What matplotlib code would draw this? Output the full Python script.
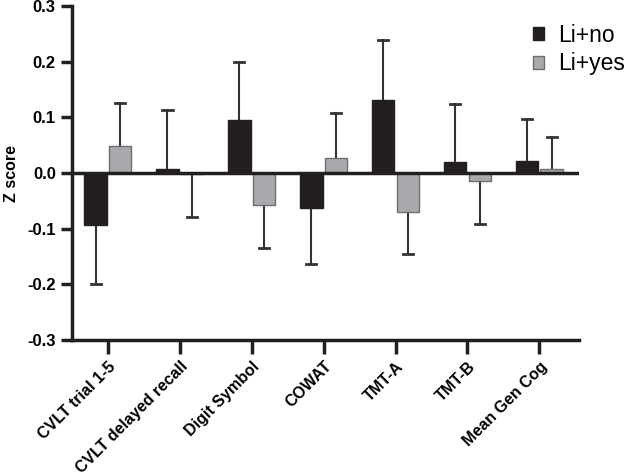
import numpy as np
import matplotlib
matplotlib.use("Agg")
import matplotlib.pyplot as plt

plt.rcParams['font.family'] = ['Liberation Sans', 'DejaVu Sans']

categories = ["CVLT trial 1-5", "CVLT delayed recall", "Digit Symbol", "COWAT",
              "TMT-A", "TMT-B", "Mean Gen Cog"]
li_no = [-0.094, 0.008, 0.095, -0.063, 0.132, 0.020, 0.022]
li_no_err = [0.106, 0.106, 0.105, 0.100, 0.108, 0.104, 0.075]
li_yes = [0.049, -0.001, -0.058, 0.028, -0.069, -0.014, 0.008]
li_yes_err = [0.077, 0.078, 0.077, 0.080, 0.076, 0.078, 0.057]

x = np.arange(len(categories))
w = 0.31
off = 0.17

fig = plt.figure(figsize=(6.3, 4.75), dpi=100)
ax = fig.add_axes([0.114, 0.284, 0.805, 0.703])

ax.bar(x - off, li_no, w, color="#231f20", edgecolor="#231f20", lw=1, label="Li+no", zorder=3)
ax.bar(x + off, li_yes, w, color="#a7a9ac", edgecolor="#6d6e70", lw=1, label="Li+yes", zorder=3)

# error bars only on the side away from zero, cap only at the far end
for xs, vals, errs in [(x - off, li_no, li_no_err), (x + off, li_yes, li_yes_err)]:
    for xi, v, e in zip(xs, vals, errs):
        tip = v - e if v < 0 else v + e
        ax.plot([xi, xi], [v, tip], color="#333333", lw=1.5, zorder=2)
        ax.plot([xi - 0.07, xi + 0.07], [tip, tip], color="#333333", lw=2, zorder=2)

ax.axhline(0, color="#231f20", lw=2.5, zorder=5)

ax.set_xlim(-0.5, 6.55)
ax.set_ylim(-0.3, 0.3)
ax.set_yticks([-0.3, -0.2, -0.1, 0.0, 0.1, 0.2, 0.3])
ax.set_yticklabels(["-0.3", "-0.2", "-0.1", "0.0", "0.1", "0.2", "0.3"],
                   fontsize=12, fontweight="bold")
ax.set_xticks(x)
ax.set_xticklabels(categories, rotation=45, ha="right", rotation_mode="anchor",
                   fontsize=11.5, fontweight="bold")
ax.set_ylabel("Z score", fontsize=11.5, fontweight="bold", labelpad=6)

for s in ["top", "right"]:
    ax.spines[s].set_visible(False)
for s in ["left", "bottom"]:
    ax.spines[s].set_linewidth(2.5)
    ax.spines[s].set_color("#231f20")
ax.tick_params(width=2.5, length=8, color="#231f20")
ax.tick_params(axis="x", length=10)

ax.legend(loc="upper right", bbox_to_anchor=(0.999, 0.96), bbox_transform=fig.transFigure,
          borderaxespad=0, borderpad=0.2, frameon=False, fontsize=16.5,
          handlelength=0.5, handleheight=0.5, handletextpad=0.6, labelspacing=0.25)

fig.savefig("out.png", dpi=100)
